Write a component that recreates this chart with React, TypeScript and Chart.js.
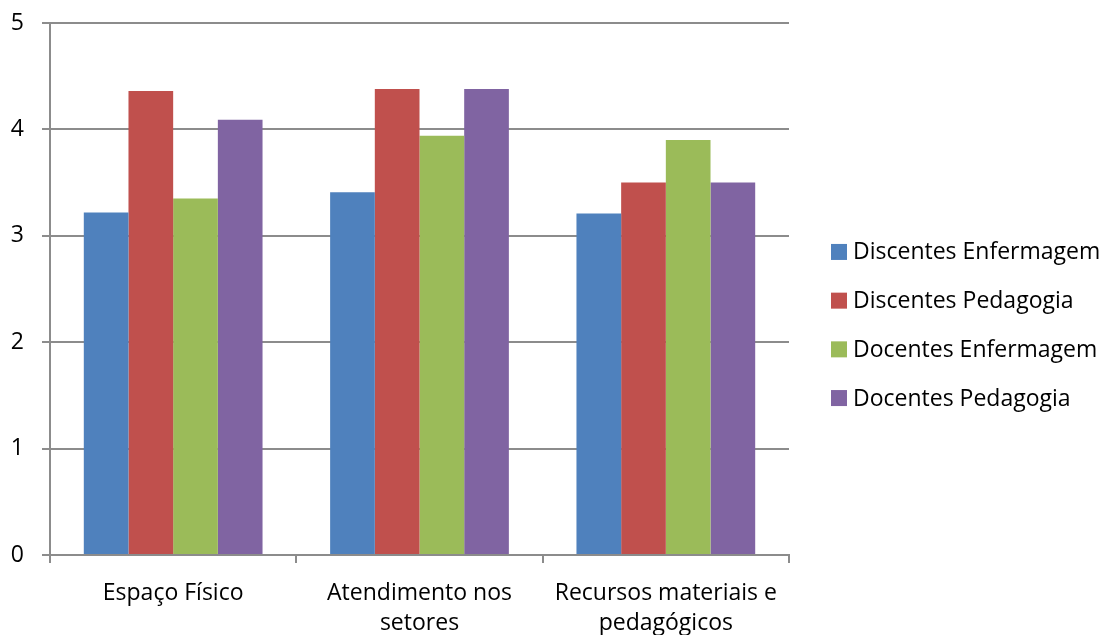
import React, { useEffect, useRef } from "react";
import { Chart, registerables } from "chart.js";

Chart.register(...registerables);

// ---- Data ----
const categories: (string | string[])[] = [
  "Espaço Físico",
  ["Atendimento nos", "setores"],
  ["Recursos materiais e", "pedagógicos"],
];
const seriesNames = [
  "Discentes Enfermagem",
  "Discentes Pedagogia",
  "Docentes Enfermagem",
  "Docentes Pedagogia",
];
const discentesEnfermagem = [3.22, 3.41, 3.21];
const discentesPedagogia = [4.36, 4.38, 3.5];
const docentesEnfermagem = [3.35, 3.94, 3.9];
const docentesPedagogia = [4.09, 4.38, 3.5];
const yMin = 0;
const yMax = 5;
const yStep = 1;

// ---- Styles ----
const COLORS = ["#4F81BD", "#C0504D", "#9BBB59", "#8064A2"];
const FONT = '"Open Sans", "Noto Sans", sans-serif';
const FONT_SIZE = 23;
const GRID = "#8c8c8c";
const GRID_W = 2;

const legendPlugin = {
  id: "sideLegend",
  afterDraw(chart: any) {
    const ctx = chart.ctx;
    const area = chart.chartArea;
    const x0 = area.right + 42;
    const spacing = 48.7;
    const n = chart.data.datasets.length;
    const centerY = 325;
    const startY = centerY - ((n - 1) * spacing) / 2;
    ctx.save();
    ctx.font = `${FONT_SIZE}px ${FONT}`;
    ctx.textBaseline = "middle";
    ctx.textAlign = "left";
    chart.data.datasets.forEach((ds: any, i: number) => {
      const cy = startY + i * spacing;
      ctx.fillStyle = ds.backgroundColor;
      ctx.fillRect(x0, cy - 8, 16, 16);
      ctx.fillStyle = "#000";
      ctx.fillText(ds.label, x0 + 22, cy + 1);
    });
    ctx.restore();
  },
};

export default function App() {
  const canvasRef = useRef<HTMLCanvasElement | null>(null);

  useEffect(() => {
    document.body.style.margin = "0";
    const canvas = canvasRef.current;
    if (!canvas) return;
    const values = [discentesEnfermagem, discentesPedagogia, docentesEnfermagem, docentesPedagogia];
    const chart = new Chart(canvas, {
      type: "bar",
      data: {
        labels: categories as any,
        datasets: seriesNames.map((name, i) => ({
          label: name,
          data: values[i],
          backgroundColor: COLORS[i],
          borderWidth: 0,
          categoryPercentage: 0.7256,
          barPercentage: 1,
        })),
      },
      options: {
        responsive: false,
        animation: false,
        devicePixelRatio: 1,
        layout: { padding: { top: 23, right: 318, left: 0, bottom: 0 } },
        plugins: {
          legend: { display: false },
          tooltip: { enabled: false },
        },
        scales: {
          x: {
            grid: {
              offset: true,
              drawOnChartArea: false,
              drawTicks: true,
              tickLength: 8,
              color: GRID,
              lineWidth: GRID_W,
            },
            border: { color: GRID, width: GRID_W },
            ticks: {
              font: { family: FONT, size: FONT_SIZE, lineHeight: 1.3 },
              color: "#000",
              padding: 16,
              maxRotation: 0,
              minRotation: 0,
              autoSkip: false,
            },
            afterFit: (s: any) => {
              s.height = 80;
              s.paddingLeft = 0;
              s.paddingRight = 0;
            },
          },
          y: {
            min: yMin,
            max: yMax,
            ticks: {
              stepSize: yStep,
              font: { family: FONT, size: FONT_SIZE },
              color: "#000",
              padding: 18,
            },
            grid: { color: GRID, tickLength: 8, lineWidth: GRID_W },
            border: { color: GRID, width: GRID_W },
            afterFit: (s: any) => {
              s.width = 50;
              s.paddingTop = 0;
              s.paddingBottom = 0;
            },
          },
        },
      },
      plugins: [legendPlugin],
    });
    return () => chart.destroy();
  }, []);

  return (
    <div style={{ width: 1107, height: 635, background: "#fff" }}>
      <canvas ref={canvasRef} width={1107} height={635} />
    </div>
  );
}
